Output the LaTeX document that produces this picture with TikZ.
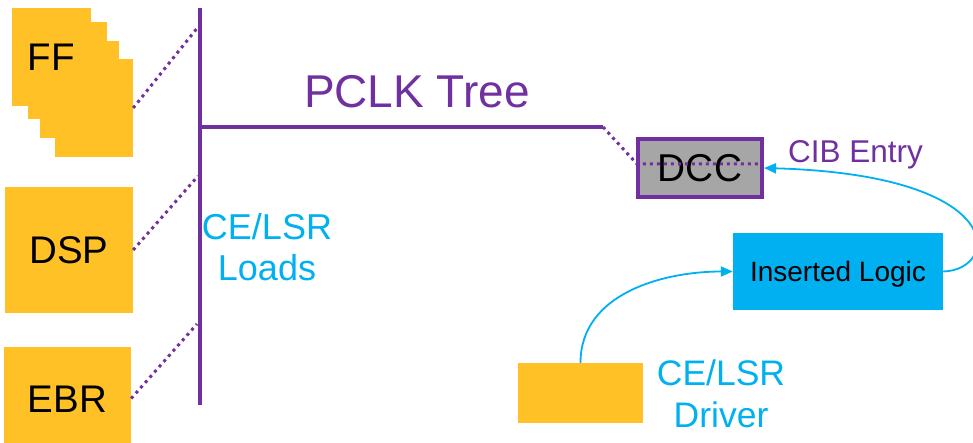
\documentclass[tikz,border=0pt]{standalone}
\usepackage{fontspec}
\setmainfont{Liberation Sans}
\usetikzlibrary{arrows.meta}
\definecolor{ffo}{HTML}{FFC125}
\definecolor{pur}{HTML}{7030A0}
\definecolor{cyn}{HTML}{00B0F0}
\definecolor{gry}{HTML}{A6A6A6}
\begin{document}
\begin{tikzpicture}[x=1pt,y=-1pt,
  blk/.style={fill=ffo, draw=none, inner sep=0pt, font=\fontsize{38.5}{46}\selectfont, text height=27.6pt, text depth=0pt},
  bus/.style={draw=pur, line width=3.5pt},
  dots/.style={draw=pur, line width=3pt, dash pattern=on 3pt off 4pt},
  cyarrow/.style={draw=cyn, line width=1.8pt, -{Triangle[length=12pt,width=10pt]}},
  lbl/.style={inner sep=0pt, align=center}
]
\useasboundingbox (0,0) rectangle (973,443);

% FF stack
\node[blk, minimum width=78pt, minimum height=98pt] (ff4) at (94,108) {};
\node[blk, minimum width=79pt, minimum height=97pt] (ff3) at (79.5,89.5) {};
\node[blk, minimum width=79pt, minimum height=97pt] (ff2) at (67.5,70.5) {};
\node[blk, minimum width=79pt, minimum height=98pt] (ff1) at (51.5,57) {FF};

\node[blk, minimum width=128pt, minimum height=126pt] (dsp) at (69,250) {DSP};
\node[blk, minimum width=127pt, minimum height=103pt] (ebr) at (67.5,398.5) {EBR};

% bus
\coordinate (bt) at (200,8);
\coordinate (bb) at (200,405);
\coordinate (pj) at (200,127);
\coordinate (pe) at (603,127);
\draw[bus] (bt) -- (bb);
\draw[bus] (pj) -- (pe);

\coordinate (t1) at (198,27);
\coordinate (t2) at (198,176);
\coordinate (t3) at (197,324);
\draw[dots] (ff4.east) -- (t1);
\draw[dots] (dsp.east) -- (t2);
\draw[dots] (ebr.east) -- (t3);

% DCC
\node[fill=gry, draw=pur, line width=4pt, minimum width=124pt, minimum height=58pt, inner sep=0pt,
      font=\fontsize{38.8}{46}\selectfont, text height=27.8pt, text depth=0pt] (dcc) at (700,168) {DCC};
\coordinate (dw) at (637,164);
\coordinate (de) at (763,164);
\draw[dots] (pe) -- (dw) -- (de);

\node[lbl, anchor=base west, text=pur, font=\fontsize{31.5}{38}\selectfont] (cib) at (788,163) {CIB Entry};
\node[lbl, anchor=base, text=pur, font=\fontsize{46}{55}\selectfont] (pclk) at (417,108) {PCLK Tree};
\node[lbl, anchor=north, text=cyn, font=\fontsize{36}{41}\selectfont] (loads) at (267,213) {CE/LSR\\Loads};

% Inserted logic and driver
\node[fill=cyn, inner sep=0pt, minimum width=210pt, minimum height=77pt,
      font=\fontsize{28}{34}\selectfont, text height=20pt, text depth=0pt] (il) at (838,271.5) {Inserted Logic};
\node[blk, minimum width=125pt, minimum height=60pt] (drv) at (580.5,393) {};
\node[lbl, anchor=north, text=cyn, font=\fontsize{35.5}{42}\selectfont] (drvl) at (721,360) {CE/LSR\\Driver};

\draw[cyarrow] (drv.north) to[out=90,in=180] (il.west);
\draw[cyarrow] (il.east) .. controls (1000,270) and (1010,175) .. (dcc.east);
\end{tikzpicture}
\end{document}
